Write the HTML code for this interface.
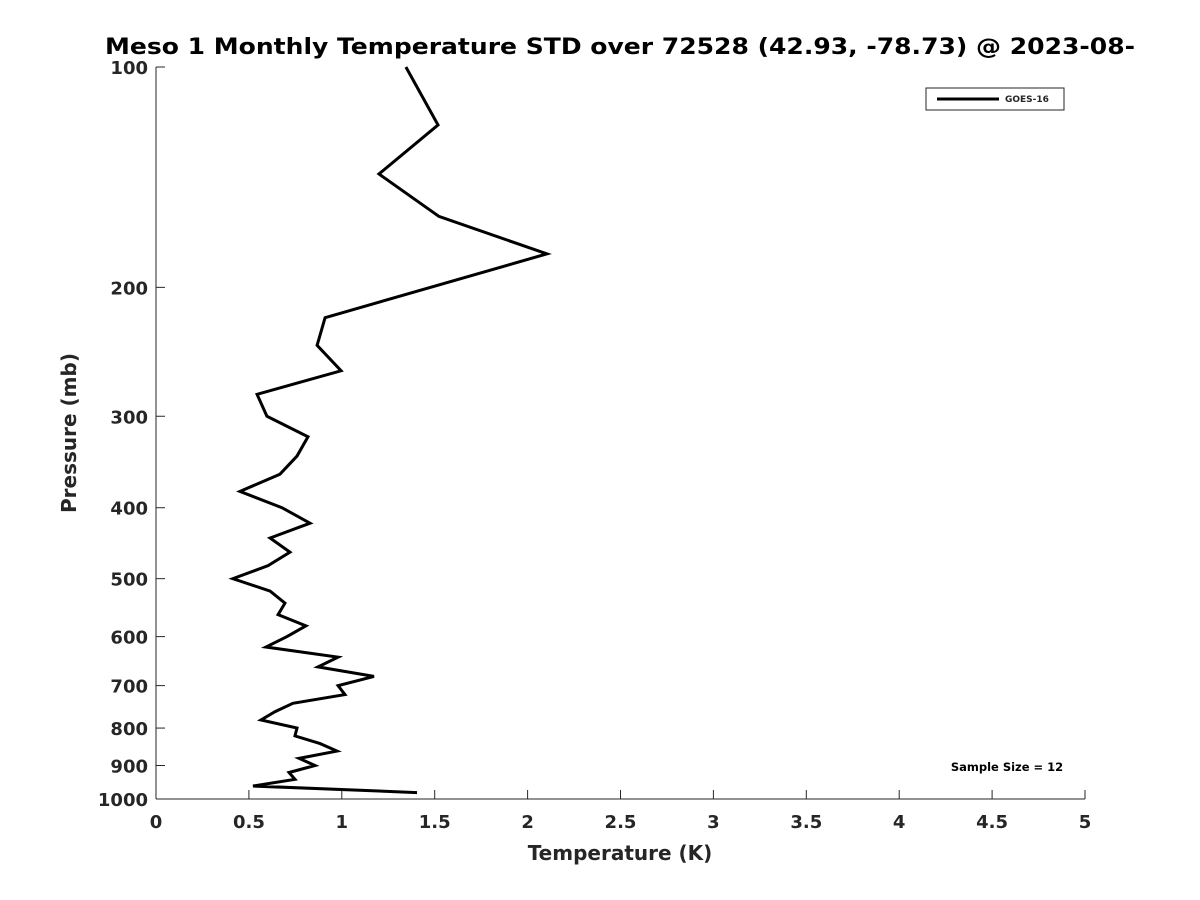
<!DOCTYPE html>
<html><head><meta charset="utf-8"><style>body{margin:0;background:#fff}svg{display:block}text{font-family:"DejaVu Sans","Liberation Sans",sans-serif;font-weight:bold;fill:#262626}</style></head>
<body>
<svg id="chart" width="1200" height="900" viewBox="0 0 1200 900"></svg>
<script>
const temps=[1.345,1.518,1.200,1.523,2.104,0.910,0.867,0.996,0.544,0.597,0.818,0.759,0.667,0.452,0.678,0.829,0.614,0.721,0.603,0.414,0.614,0.694,0.657,0.807,0.705,0.592,0.980,0.872,1.173,0.980,1.017,0.737,0.640,0.565,0.759,0.748,0.883,0.974,0.770,0.856,0.716,0.748,0.522,1.405];
const pressures=[100,120,140,160,180,220,240,260,280,300,320,340,360,380,400,420,440,460,480,500,520,540,560,580,600,620,640,660,680,700,720,740,760,780,800,820,840,860,880,900,920,940,960,980];
const xTicks=[0,0.5,1,1.5,2,2.5,3,3.5,4,4.5,5];
const yTicks=[100,200,300,400,500,600,700,800,900,1000];
const NS="http://www.w3.org/2000/svg",svg=document.getElementById('chart');
const L=156,R=1085,T=67,B=799;
const xs=v=>L+(v-0)/(5-0)*(R-L);
const ys=p=>T+(Math.log10(p)-2)*(B-T);
function mk(tag,at,txt){const e=document.createElementNS(NS,tag);for(const k in at)e.setAttribute(k,at[k]);if(txt!==undefined)e.textContent=txt;svg.appendChild(e);return e;}
let e;
e=mk('line',{x1:L,y1:T,x2:L,y2:B,stroke:'#262626','stroke-width':1});


e=mk('line',{x1:L,y1:B,x2:R,y2:B,stroke:'#262626','stroke-width':1});


xTicks.forEach(v=>{const x=xs(v);
e=mk('line',{x1:x,y1:B,x2:x,y2:B-9,stroke:'#262626'});


e=mk('text',{x:x,y:B+29,'text-anchor':'middle','font-size':18},String(v));

});
yTicks.forEach(p=>{const y=ys(p);
e=mk('line',{x1:L,y1:y,x2:L+9,y2:y,stroke:'#262626'});


e=mk('text',{x:L-8,y:y+7,'text-anchor':'end','font-size':18},String(p));

});
e=mk('polyline',{points:temps.map((t,i)=>xs(t)+','+ys(pressures[i])).join(' '),fill:'none',stroke:'#000','stroke-width':3,'stroke-linejoin':'miter'});


e=mk('text',{x:620,y:54,'text-anchor':'middle','font-size':22.5,textLength:1030,lengthAdjust:'spacingAndGlyphs',style:'fill:#000'},'Meso 1 Monthly Temperature STD over 72528 (42.93, -78.73) @ 2023-08-');


e=mk('text',{x:620,y:860,'text-anchor':'middle','font-size':20},'Temperature (K)');


e=mk('text',{x:0,y:0,'text-anchor':'middle','font-size':20,transform:'translate(76,433) rotate(-90)'},'Pressure (mb)');


e=mk('rect',{x:926,y:88,width:138,height:22,fill:'#fff',stroke:'#262626','stroke-width':1});


e=mk('line',{x1:937,y1:99,x2:999,y2:99,stroke:'#000','stroke-width':3});


e=mk('text',{x:1005,y:102,'font-size':9},'GOES-16');


e=mk('text',{x:1007,y:771,'text-anchor':'middle','font-size':11.5,style:'fill:#000'},'Sample Size = 12');


</script>
</body></html>
